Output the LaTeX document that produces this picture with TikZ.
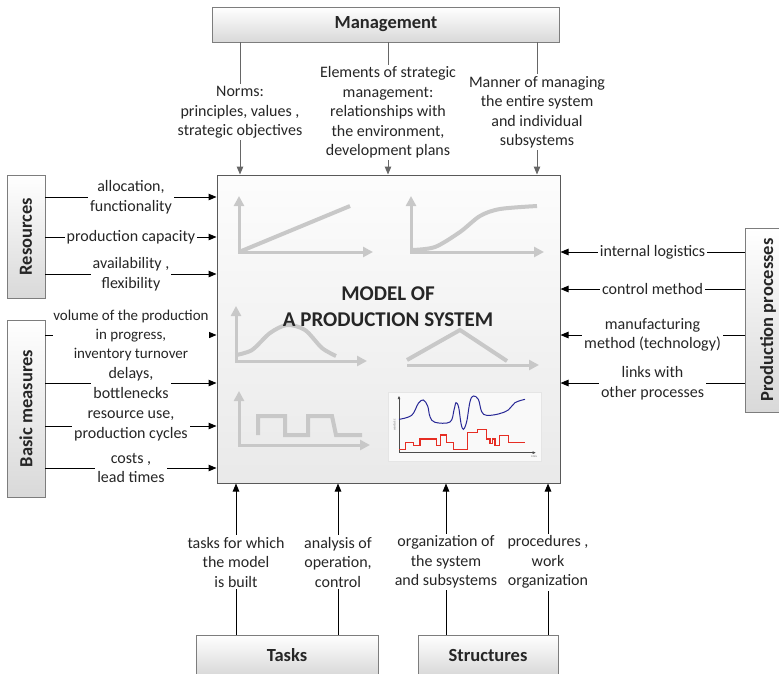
\documentclass[tikz,border=0pt]{standalone}
\usepackage{fontspec}
\setmainfont{Carlito}
\usetikzlibrary{arrows.meta}

\definecolor{graphgray}{RGB}{200,200,200}
\definecolor{framegray}{RGB}{125,125,125}
\definecolor{curveblue}{RGB}{40,40,150}
\definecolor{stepred}{RGB}{230,45,35}

\tikzset{
  box/.style={draw=framegray, line width=0.8pt, top color=white, bottom color=gray!30,
    font=\bfseries\fontsize{18.5}{22}\selectfont, text=black!85, inner sep=0pt},
  lbl/.style={fill=white, align=center, inner sep=2pt, text=black!85,
    font=\fontsize{16}{19.5}\selectfont},
  arr/.style={line width=1pt, -{Triangle[length=8pt,width=6.5pt]}},
  tarr/.style={arr, draw=black!60},
  axis/.style={graphgray, line width=3pt,
    {Triangle[length=10pt,width=10pt]}-{Triangle[length=10pt,width=10pt]}},
  curve/.style={graphgray, line width=4pt},
}

\begin{document}
\begin{tikzpicture}[x=1pt,y=-1pt]
\useasboundingbox (0,0) rectangle (779,673);
\clip (0,0) rectangle (779,673);

% boxes
\node[box, minimum width=347pt, minimum height=35pt] (mgmt) at (386,24.5) {Management};
\node[draw=black!65, line width=1pt, top color=gray!2, bottom color=gray!17,
  minimum width=343pt, minimum height=308pt] (model) at (388.5,329) {};
\node[box, minimum width=38pt, minimum height=123pt] (res) at (26,236.5) {\rotatebox{90}{Resources}};
\node[box, minimum width=38pt, minimum height=177pt] (meas) at (26,408.5) {\rotatebox{90}{Basic measures}};
\node[box, minimum width=46pt, minimum height=184pt] (proc) at (768,320) {\rotatebox{90}{Production processes}};
\node[box, minimum width=182pt, minimum height=40pt] (tasks) at (287,655) {Tasks};
\node[box, minimum width=140pt, minimum height=40pt] (struct) at (488,655) {Structures};

% small pictures inside the model
\draw[axis] (239,196) -- (239,252) -- (373,252);
\draw[curve] (239,252) -- (350,206);

\draw[axis] (411,196) -- (411,252) -- (544,252);
\draw[curve] plot[smooth] coordinates {(412,250) (435,247) (460,232) (480,216) (500,209) (537,206)};

\draw[axis] (236,306) -- (236,361) -- (367,361);
\draw[curve] plot[smooth] coordinates {(236,355) (252,350) (270,333) (287,325) (305,330) (322,348) (336,356)};

\draw[graphgray, line width=3pt, -{Triangle[length=10pt,width=10pt]}] (407,365) -- (539,365);
\draw[curve] (407,360) -- (460,330) -- (507,361);

\draw[axis] (239,391) -- (239,445) -- (370,445);
\draw[curve] (258,435) -- (258,416) -- (285,416) -- (285,435) -- (308,435) -- (308,416)
  -- (332,416) -- (336,435) -- (362,435);

\draw[gray!20, fill=gray!5] (388,392) rectangle (541,461);
\begin{scope}[shift={(385,390)}, scale=1/3]
  \draw[black!70, line width=0.5pt, -{Triangle[length=3pt,width=2.5pt]}] (42,188) -- (42,18);
  \draw[black!70, line width=0.5pt, -{Triangle[length=3pt,width=2.5pt]}] (42,188) -- (452,188);
  \draw[curveblue, line width=1pt] plot[smooth, tension=0.6] coordinates {(42,88) (80,76) (100,40)
    (115,30) (128,48) (135,80) (150,97) (195,96) (207,60) (213,38) (221,52) (228,100) (235,118)
    (245,95) (255,35) (265,18) (280,28) (290,65) (305,76) (340,72) (370,60) (390,38) (420,28)};
  \draw[stepred, line width=1.2pt] (42,178) -- (62,178) -- (62,157) -- (85,157) -- (85,167)
    -- (105,167) -- (105,147) -- (155,147) -- (155,167) -- (167,167) -- (167,135) -- (185,135)
    -- (185,157) -- (205,157) -- (205,178) -- (248,178) -- (248,127) -- (278,127) -- (278,118)
    -- (305,118) -- (305,147) -- (315,147) -- (315,160) -- (322,160) -- (322,147) -- (330,147)
    -- (330,167) -- (343,167) -- (343,137) -- (370,137) -- (370,157) -- (420,157);
  \node[rotate=90, gray, font=\fontsize{3.5}{4}\selectfont, inner sep=0pt] (yname) at (28,105) {wartość};
  \node[gray, font=\fontsize{3.5}{4}\selectfont, inner sep=0pt] (xname) at (447,200) {czas};
\end{scope}

\node[font=\bfseries\fontsize{21}{26}\selectfont, align=center, text=black!85] (title)
  at (388,307) {MODEL OF\\A PRODUCTION SYSTEM};

% inputs from the management
\foreach \x/\txt in {240/{Norms:\\principles, values ,\\strategic objectives},
    388/{Elements of strategic\\management:\\relationships with\\the environment,\\development plans},
    537/{Manner of managing\\the entire system\\and individual\\subsystems}}
  \draw[tarr] (mgmt.south -| \x,0) -- node[lbl, pos=0.53] {\txt} (model.north -| \x,0);

% inputs from the left
\foreach \y/\txt in {197/{allocation,\\functionality}, 237/{production capacity},
    274/{availability ,\\flexibility}}
  \draw[arr] (res.east |- 0,\y) -- node[lbl] {\txt} (model.west |- 0,\y);
\draw[arr] (meas.east |- 0,335) -- node[lbl, inner xsep=0pt, font=\fontsize{15}{19}\selectfont]
  {volume of the production\\in progress,\\inventory turnover} (model.west |- 0,335);
\foreach \y/\txt in {383/{delays,\\bottlenecks}, 426/{resource use,\\production cycles},
    468/{costs ,\\lead times}}
  \draw[arr] (meas.east |- 0,\y) -- node[lbl] {\txt} (model.west |- 0,\y);

% inputs from the right
\foreach \y/\txt in {252/{internal logistics}, 289/{control method},
    335/{manufacturing\\method (technology)}, 383/{links with\\other processes}}
  \draw[arr] (proc.west |- 0,\y) -- node[lbl] {\txt} (model.east |- 0,\y);

% inputs from below
\foreach \x/\txt in {236/{tasks for which\\the model\\is built}, 338/{analysis of\\operation,\\control}}
  \draw[arr] (tasks.north -| \x,0) -- node[lbl, pos=0.48] {\txt} (model.south -| \x,0);
\foreach \x/\txt in {446/{organization of\\the system\\and subsystems}, 548/{procedures ,\\work\\organization}}
  \draw[arr] (struct.north -| \x,0) -- node[lbl, pos=0.48] {\txt} (model.south -| \x,0);
\end{tikzpicture}
\end{document}
